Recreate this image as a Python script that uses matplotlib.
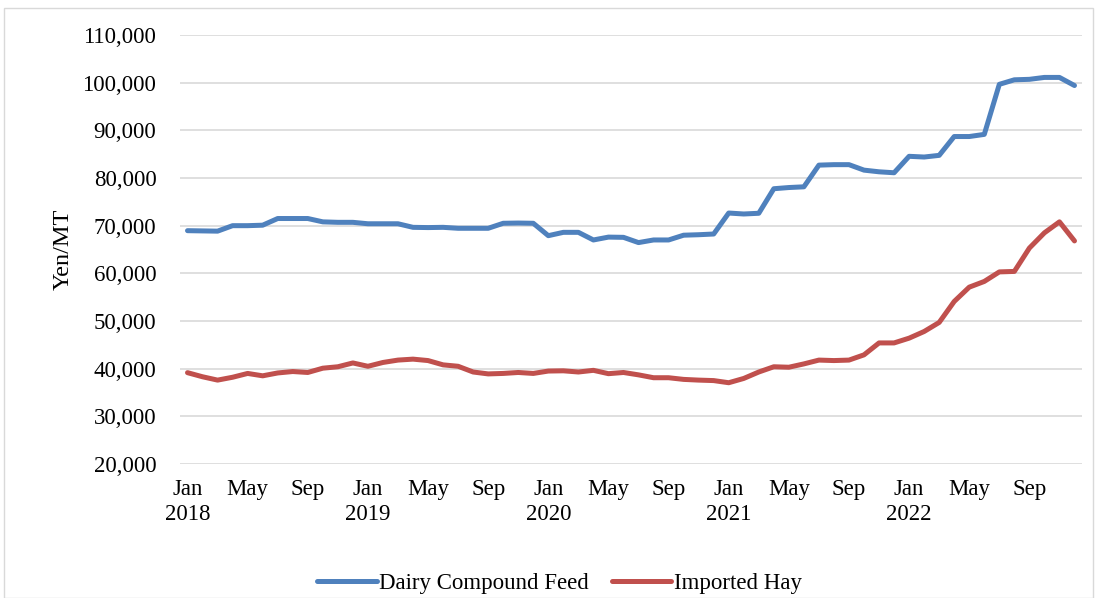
import matplotlib.pyplot as plt
from matplotlib.patches import Rectangle

# precios mensuales ene-2018 a dic-2022 (yen por tonelada)
meses = ["Jan", "Feb", "Mar", "Apr", "May", "Jun",
         "Jul", "Aug", "Sep", "Oct", "Nov", "Dec"]
anios = [2018, 2019, 2020, 2021, 2022]

pienso_lechero = [
    68950, 68900, 68850, 70000, 70000, 70100, 71500, 71500, 71500, 70800, 70700, 70700,
    70400, 70400, 70400, 69650, 69600, 69650, 69450, 69450, 69450, 70500, 70550, 70500,
    67900, 68600, 68600, 67000, 67600, 67550, 66450, 67000, 67000, 68000, 68100, 68250,
    72650, 72450, 72600, 77750, 78000, 78150, 82700, 82800, 82800, 81650, 81300, 81100,
    84550, 84400, 84750, 88700, 88700, 89150, 99650, 100600, 100700, 101100, 101100, 99400,
]
heno_importado = [
    39160, 38300, 37600, 38200, 39000, 38500, 39100, 39400, 39200, 40100, 40400, 41200,
    40500, 41300, 41800, 42000, 41700, 40800, 40500, 39300, 38900, 39000, 39200, 39000,
    39500, 39550, 39300, 39650, 38950, 39200, 38700, 38100, 38100, 37750, 37600, 37500,
    37050, 37950, 39300, 40400, 40300, 41000, 41800, 41700, 41800, 42900, 45400, 45400,
    46400, 47800, 49700, 54100, 57100, 58300, 60300, 60400, 65300, 68500, 70800, 66800,
]

SERIES = ["Dairy Compound Feed", "Imported Hay"]
COLORES = ["#4F81BD", "#C0504D"]

plt.rcParams["font.family"] = ["Liberation Serif", "DejaVu Serif"]

fig = plt.figure(figsize=(10.97, 5.98), dpi=100)
ax = fig.add_axes([180 / 1097, 1 - 464 / 598, (1082 - 180) / 1097, (464 - 35) / 598])

x = list(range(len(pienso_lechero)))
for datos, nombre, color in zip([pienso_lechero, heno_importado], SERIES, COLORES):
    ax.plot(x, datos, color=color, lw=3.6, label=nombre, solid_capstyle="round",
            solid_joinstyle="round", zorder=3)

ax.set_xlim(-0.5, len(x) - 0.5)
ax.set_ylim(20000, 110000)
ax.set_yticks(range(20000, 110001, 10000))
ax.set_yticklabels([f"{v:,}" for v in range(20000, 110001, 10000)], fontsize=16.5)

pos = list(range(0, len(x), 4))
etiquetas = []
for p in pos:
    m = meses[p % 12]
    etiquetas.append(f"{m}\n{anios[p // 12]}" if m == "Jan" else m)
ax.set_xticks(pos)
ax.set_xticklabels(etiquetas, fontsize=16.5, linespacing=1.25)

ax.grid(axis="y", color="#d9d9d9", lw=1.2, zorder=0)
ax.tick_params(axis="both", length=0)
ax.tick_params(axis="x", pad=11)
ax.tick_params(axis="y", pad=17)
for s in ax.spines.values():
    s.set_visible(False)

ax.set_ylabel("Yen/MT", fontsize=17.5)
ax.yaxis.set_label_coords(-0.118, 0.5)

fig.legend(loc="center", bbox_to_anchor=(0.51, 1 - 583 / 598), ncol=2, frameon=False,
           fontsize=16.5, handlelength=2.6, handletextpad=0.1, columnspacing=1.0)

fig.patches.append(Rectangle((4 / 1097, 0), 1089 / 1097, 1 - 8 / 598,
                             transform=fig.transFigure, fill=False,
                             edgecolor="#d9d9d9", lw=1))

fig.savefig("out.png", dpi=100)
